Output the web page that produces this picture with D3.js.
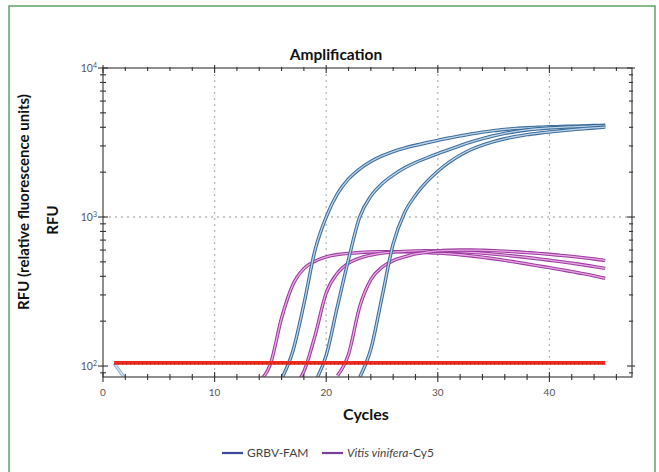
<!DOCTYPE html>
<html>
<head>
<meta charset="utf-8">
<script src="https://cdn.jsdelivr.net/npm/d3@7"></script>
<style>
  body { margin: 0; background: #fff; }
  text { font-family: Lato, "Open Sans", sans-serif; }
</style>
</head>
<body>
<div id="chart"></div>
<script>
// amplification plot, RFU per cycle (log scale)

const xTicks = [0, 10, 20, 30, 40];
const yTicks = [100, 1000, 10000];
const yTickLabels = ["2", "3", "4"];

// GRBV-FAM curves, first value is at the start cycle
const famAStart = 16;
const famA = [82, 125, 260, 600, 1000, 1430, 1800, 2100, 2360, 2570, 2750, 2900, 3030, 3150, 3270,
    3390, 3500, 3610, 3710, 3800, 3870, 3930, 3970, 4000, 4030, 4050, 4070, 4090, 4110, 4130];
const famBStart = 19;
const famB = [78, 118, 250, 520, 1000, 1380, 1670, 1910, 2130, 2320, 2490, 2660, 2830, 3010,
    3190, 3360, 3510, 3640, 3750, 3840, 3910, 3960, 4000, 4030, 4060, 4080, 4100];
const famCStart = 23;
const famC = [84, 130, 290, 660, 1060, 1400, 1720, 2030, 2330, 2600, 2840, 3040, 3210, 3350,
    3470, 3570, 3650, 3720, 3790, 3850, 3910, 3960, 4010];
const famEarlyStart = 1;
const famEarly = [104, 82];

// Vitis vinifera-Cy5 curves
const cy5AStart = 14;
const cy5A = [80, 103, 210, 350, 450, 505, 540, 560, 570, 578, 583, 585, 586, 585, 582, 578, 573,
    566, 558, 548, 537, 525, 512, 498, 484, 470, 457, 444, 430, 417, 403, 388];
const cy5BStart = 17;
const cy5B = [72, 92, 160, 310, 420, 490, 530, 555, 572, 582, 588, 592, 594, 593, 590, 585, 579,
    572, 564, 555, 545, 535, 524, 513, 502, 490, 478, 465, 452];
const cy5CStart = 21;
const cy5C = [86, 120, 250, 380, 460, 510, 540, 565, 580, 592, 598, 600, 600, 598, 595, 590, 584,
    577, 570, 562, 553, 544, 534, 523, 510];

// threshold
const thresholdCycles = [1, 45];
const thresholdValue = 105;

const legendItems = [
    { label: "GRBV-FAM", italic: "", color: "#3b4a9c" },
    { label: "-Cy5", italic: "Vitis vinifera", color: "#7a3e9d" }
];

function toPoints(start, values) {
    return values.map((v, i) => ({ c: start + i, v: v }));
}

const W = 659, H = 472;
const plot = { left: 103, top: 68, right: 632, bottom: 377 };

let svg = d3.select("#chart").
append("svg").
attr("width", W).
attr("height", H);

// green frame
svg.append("rect").
attr("x", 9).
attr("y", 6).
attr("width", 646).
attr("height", 475).
attr("fill", "#fff").
attr("stroke", "#6aa86f").
attr("stroke-width", 1.6);

let xScale = d3.scaleLinear().
domain([0, 47.4]).
range([plot.left, plot.right]);

let yScale = d3.scaleLog().
domain([84.4, 10000]).
range([plot.bottom, plot.top]);

svg.append("defs").
append("clipPath").
attr("id", "clip").
append("rect").
attr("x", plot.left).
attr("y", plot.top).
attr("width", plot.right - plot.left).
attr("height", plot.bottom - plot.top);

// grid
let grid = svg.append("g").attr("stroke", "#b8b8b8").attr("stroke-width", 1.3).attr("stroke-dasharray", "2,4");
grid.selectAll(".vg").
data(xTicks.slice(1)).
enter().
append("line").
attr("x1", d => xScale(d)).
attr("x2", d => xScale(d)).
attr("y1", plot.top).
attr("y2", plot.bottom);
grid.append("line").
attr("x1", plot.left).
attr("x2", plot.right).
attr("y1", yScale(1000)).
attr("y2", yScale(1000));

// curves
let line = d3.line().
x(d => xScale(d.c)).
y(d => yScale(d.v)).
curve(d3.curveMonotoneX);

let curves = svg.append("g").attr("clip-path", "url(#clip)").attr("fill", "none");

function drawCurve(points, outer, inner) {
    curves.append("path").
    datum(points).
    attr("d", line).
    attr("stroke", outer).
    attr("stroke-width", 3.4);
    curves.append("path").
    datum(points).
    attr("d", line).
    attr("stroke", inner).
    attr("stroke-width", 1.3);
}

drawCurve(toPoints(famEarlyStart, famEarly), "#8fb3d4", "#d6e5f2");

[[cy5AStart, cy5A], [cy5BStart, cy5B], [cy5CStart, cy5C]].forEach(s => {
    drawCurve(toPoints(s[0], s[1]), "#9b3c9f", "#e9a9e5");
});

[[famAStart, famA], [famBStart, famB], [famCStart, famC]].forEach(s => {
    drawCurve(toPoints(s[0], s[1]), "#3d6d9b", "#bcd3e8");
});

// threshold line
curves.append("line").
attr("x1", xScale(thresholdCycles[0])).
attr("x2", xScale(thresholdCycles[1])).
attr("y1", yScale(thresholdValue)).
attr("y2", yScale(thresholdValue)).
attr("stroke", "#ec2a1e").
attr("stroke-width", 3.6);
curves.append("line").
attr("x1", xScale(thresholdCycles[0])).
attr("x2", xScale(thresholdCycles[1])).
attr("y1", yScale(thresholdValue) + 1).
attr("y2", yScale(thresholdValue) + 1).
attr("stroke", "#a81810").
attr("stroke-width", 1.2).
attr("stroke-dasharray", "1,3");

// frame of plot
svg.append("rect").
attr("x", plot.left).
attr("y", plot.top).
attr("width", plot.right - plot.left).
attr("height", plot.bottom - plot.top).
attr("fill", "none").
attr("stroke", "#444").
attr("stroke-width", 1.2);

// ticks
let ticks = svg.append("g").attr("stroke", "#333").attr("stroke-width", 1.1);
let xMinor = d3.range(0, 47, 2);
xMinor.forEach(c => {
    let major = c % 10 === 0;
    let len = major ? 5 : 3;
    ticks.append("line").attr("x1", xScale(c)).attr("x2", xScale(c)).
    attr("y1", plot.bottom - len).attr("y2", plot.bottom + len);
    ticks.append("line").attr("x1", xScale(c)).attr("x2", xScale(c)).
    attr("y1", plot.top - len + 2).attr("y2", plot.top + len);
});
let yMinor = [];
[10, 100, 1000].forEach(dec => {
    for (let k = 1; k < 10; k++) {
        if (dec * k >= 84.4) yMinor.push(dec * k);
    }
});
yMinor.push(10000);
yMinor.forEach(v => {
    let major = yTicks.indexOf(v) >= 0;
    let len = major ? 5 : 3;
    ticks.append("line").attr("x1", plot.left - len).attr("x2", plot.left + len).
    attr("y1", yScale(v)).attr("y2", yScale(v));
    ticks.append("line").attr("x1", plot.right - len).attr("x2", plot.right + len - 2).
    attr("y1", yScale(v)).attr("y2", yScale(v));
});

// tick labels
svg.append("g").
selectAll("text").
data(xTicks).
enter().
append("text").
attr("x", d => xScale(d)).
attr("y", 396).
attr("text-anchor", "middle").
attr("font-size", 10).
attr("fill", "#555").
text(d => d);

let yl = svg.append("g").
selectAll("text").
data(yTicks).
enter().
append("text").
attr("x", plot.left - 6).
attr("y", d => yScale(d) + 4).
attr("text-anchor", "end").
attr("font-size", 10.5).
attr("fill", "#555");
yl.append("tspan").text("10");
yl.append("tspan").
attr("dy", -4).
attr("font-size", 7).
text((d, i) => yTickLabels[i]);

// titles
svg.append("text").
attr("x", 336).
attr("y", 60).
attr("text-anchor", "middle").
attr("font-size", 15.5).
attr("font-weight", "bold").
attr("fill", "#111").
text("Amplification");

svg.append("text").
attr("x", 366).
attr("y", 420).
attr("text-anchor", "middle").
attr("font-size", 16).
attr("font-weight", "bold").
attr("fill", "#111").
text("Cycles");

svg.append("text").
attr("transform", "translate(29,202) rotate(-90)").
attr("text-anchor", "middle").
attr("font-size", 15).
attr("font-weight", "bold").
attr("fill", "#111").
text("RFU (relative fluorescence units)");

svg.append("text").
attr("transform", "translate(58,220) rotate(-90)").
attr("text-anchor", "middle").
attr("font-size", 15).
attr("font-weight", "bold").
attr("fill", "#111").
text("RFU");

// legend
let legendX = [222, 322];
legendItems.forEach((item, i) => {
    let g = svg.append("g").attr("transform", "translate(" + legendX[i] + ",453)");
    g.append("line").
    attr("x1", 0).
    attr("x2", 21).
    attr("stroke", item.color).
    attr("stroke-width", 2.2);
    let t = g.append("text").
    attr("x", 25).
    attr("y", 4).
    attr("font-size", 12).
    attr("fill", "#444");
    if (item.italic) {
        t.append("tspan").attr("font-style", "italic").text(item.italic);
    }
    t.append("tspan").text(item.label);
});
</script>
</body>
</html>
